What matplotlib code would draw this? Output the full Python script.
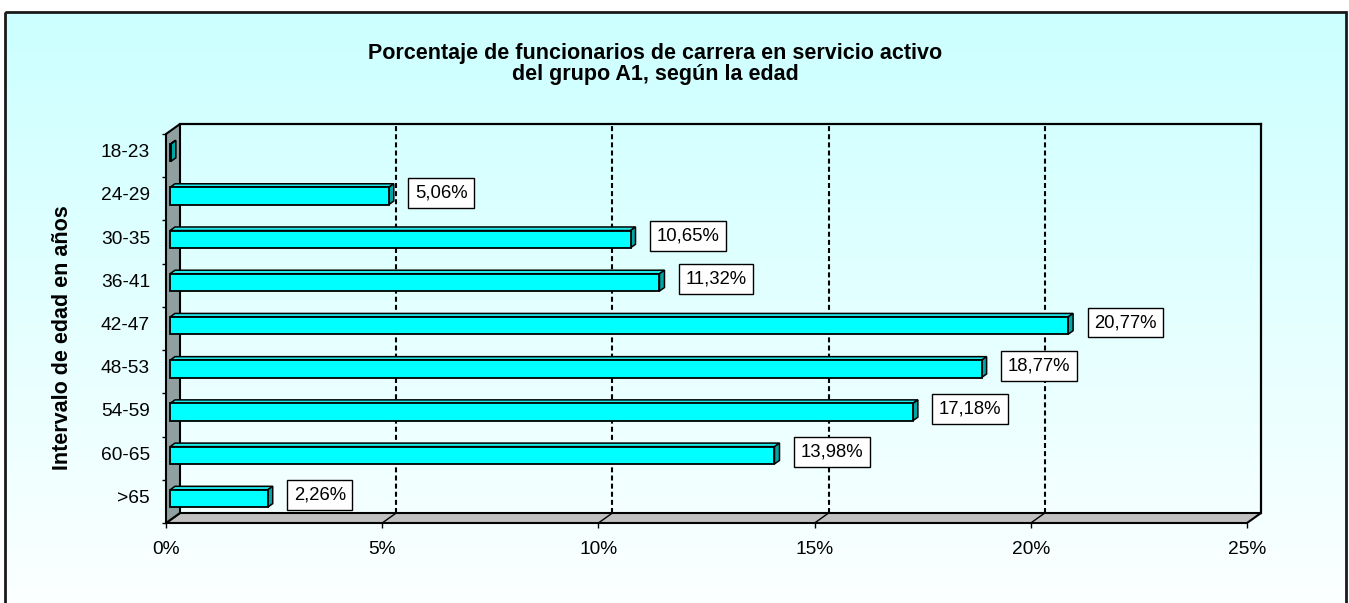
import numpy as np
import matplotlib
matplotlib.use('Agg')
import matplotlib.pyplot as plt
from matplotlib.patches import Polygon, Rectangle
from matplotlib.lines import Line2D
from matplotlib.transforms import offset_copy, IdentityTransform

# ---------------- data ----------------
categories = ['18-23', '24-29', '30-35', '36-41', '42-47', '48-53', '54-59', '60-65', '>65']
values = [0.02, 5.06, 10.65, 11.32, 20.77, 18.77, 17.18, 13.98, 2.26]
value_labels = ['', '5,06%', '10,65%', '11,32%', '20,77%', '18,77%', '17,18%', '13,98%', '2,26%']
x_ticks = [0, 5, 10, 15, 20, 25]
x_tick_labels = ['0%', '5%', '10%', '15%', '20%', '25%']
grid_x = [5, 10, 15, 20]
title = 'Porcentaje de funcionarios de carrera en servicio activo\ndel grupo A1, según la edad'
ylabel = 'Intervalo de edad en años'

# ---------------- figure ----------------
W, H = 1349, 603
plt.rcParams['font.family'] = ['Liberation Sans', 'DejaVu Sans']
fig = plt.figure(figsize=(W / 100, H / 100), dpi=100)
fig.patch.set_facecolor('white')


def fx(px):
    return px / W


def fy(py):
    return 1 - py / H


# background gradient + frame
bg = fig.add_axes([0, 0, 1, 1], zorder=0)
bg.set_axis_off()
bg.set_xlim(0, W)
bg.set_ylim(H, 0)
g = np.linspace(0, 1, 256)[:, None, None]
c0 = np.array([204, 255, 255]) / 255
c1 = np.array([252, 255, 255]) / 255
img = c0 * (1 - g) + c1 * g
bg.imshow(img, extent=(5, 1346, 612, 12), aspect='auto', origin='upper', zorder=0)
bg.add_patch(Rectangle((5, 12), 1341, 600, fill=False, edgecolor='#1a1a1a', lw=2, zorder=2))

# main axes = front plane of the 3D box
ax = fig.add_axes([fx(166), fy(523), (1247 - 166) / W, (523 - 134) / H], zorder=1)
ax.patch.set_visible(False)
for s in ax.spines.values():
    s.set_visible(False)
n = len(categories)
idx = np.arange(n)
ax.set_xlim(0, 25)
ax.set_ylim(n - 0.5, -0.5)

DEPTH = np.array([14.0, 10.0])  # full depth offset in pixels (right, up)
BAR_FRONT = 4 / 14
BAR_BACK = 9 / 14


def D(x, y, d=0.0):
    p = ax.transData.transform((x, y))
    return p + d * DEPTH


ytop, ybot = -0.5, n - 0.5
ident = IdentityTransform()


def poly(pts, fc, ec='black', lw=1.5, z=2):
    p = Polygon(np.array(pts), closed=True, facecolor=fc, edgecolor=ec, lw=lw,
                transform=ident, clip_on=False, zorder=z, joinstyle='miter')
    ax.add_artist(p)


def line(p0, p1, lw=1.5, z=3, **kw):
    l = Line2D([p0[0], p1[0]], [p0[1], p1[1]], color='black', lw=lw,
               transform=ident, clip_on=False, zorder=z, **kw)
    ax.add_artist(l)


# back wall outline
line(D(0, ytop, 1), D(25, ytop, 1), lw=1.6)
line(D(25, ytop, 1), D(25, ybot, 1), lw=1.6)

# gridlines on back wall and floor
back_tr = offset_copy(ax.transData, fig, x=DEPTH[0], y=DEPTH[1], units='dots')
for gx in grid_x:
    ax.add_artist(Line2D([gx, gx], [ybot, ytop], color='black', lw=1.5,
                         linestyle=(0, (2.4, 1.5)), transform=back_tr, clip_on=False, zorder=2))

# floor
poly([D(0, ybot, 0), D(25, ybot, 0), D(25, ybot, 1), D(0, ybot, 1)], '#C0C0C0', lw=1.5, z=2)
for gx in grid_x:
    line(D(gx, ybot, 0), D(gx, ybot, 1), lw=1.0, z=3)

# left wall
poly([D(0, ytop, 0), D(0, ytop, 1), D(0, ybot, 1), D(0, ybot, 0)], '#909F9F', lw=1.5, z=3)

# bars
bh = 0.40
front_tr = offset_copy(ax.transData, fig, x=DEPTH[0] * BAR_FRONT, y=DEPTH[1] * BAR_FRONT, units='dots')
ax.barh(idx, values, height=bh, left=0, color='#00FFFF', edgecolor='black', lw=1.3,
        transform=front_tr, zorder=6, clip_on=False)
for i, v in zip(idx, values):
    yt, yb = i - bh / 2, i + bh / 2
    # top face
    poly([D(0, yt, BAR_FRONT), D(v, yt, BAR_FRONT), D(v, yt, BAR_BACK), D(0, yt, BAR_BACK)],
         '#1EE8E8', lw=1.1, z=5)
    # side face
    poly([D(v, yt, BAR_FRONT), D(v, yb, BAR_FRONT), D(v, yb, BAR_BACK), D(v, yt, BAR_BACK)],
         '#00A5A5', lw=1.1, z=5)

ax.set_xlim(0, 25)
ax.set_ylim(n - 0.5, -0.5)

# data labels
for i, v, lab in zip(idx, values, value_labels):
    if lab:
        ax.annotate(lab, xy=(v, i), xytext=(30, 6), textcoords='offset pixels',
                    ha='left', va='center', fontsize=13.3, zorder=8,
                    bbox=dict(boxstyle='square,pad=0.35', fc='white', ec='black', lw=1))

# ticks
px_per_cat = (523 - 134) / n
ax.set_yticks(idx - 5 / px_per_cat, categories)
ax.set_yticks(np.arange(n + 1) - 0.5, minor=True)
ax.tick_params(axis='y', which='major', length=0, pad=11.5, labelsize=13.8)
ax.tick_params(axis='y', which='minor', length=3, width=1, color='black', direction='out')
ax.set_xticks(x_ticks, x_tick_labels)
ax.tick_params(axis='x', which='major', length=3.6, width=1, color='black', pad=9.5, labelsize=13.8)

# title and axis label
fig.text(fx(655), fy(64), title, ha='center', va='center', fontsize=15.5,
         fontweight='bold', linespacing=1.0, zorder=5)
fig.text(fx(62), fy(338), ylabel, rotation=90, ha='center', va='center',
         fontsize=15.5, fontweight='bold', zorder=5)

fig.savefig('out.png', dpi=100)
